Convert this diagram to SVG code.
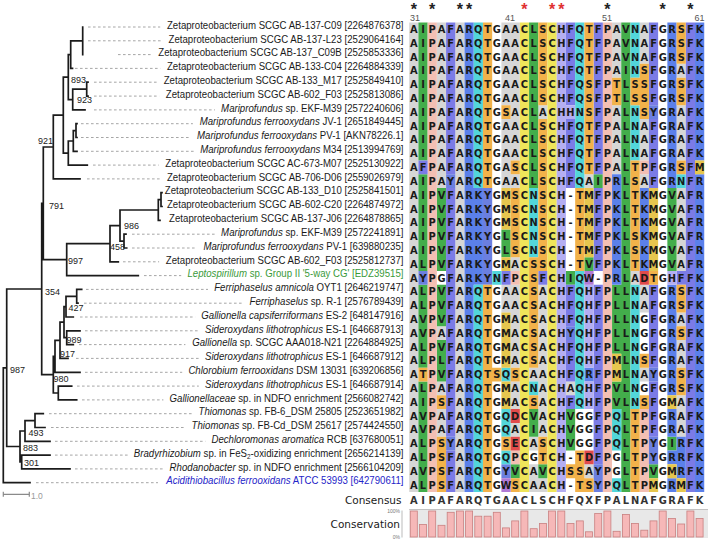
<svg xmlns="http://www.w3.org/2000/svg" width="708" height="541" viewBox="0 0 708 541">
<style>
.t{fill:none;stroke:#1b1b1b;stroke-width:1.7;stroke-linecap:square}
.ld{fill:none;stroke:#9c9c9c;stroke-width:0.9;stroke-dasharray:2.6 2.4}
.lb{font-family:"Liberation Sans",Arial,sans-serif;font-size:10.5px;fill:#1a1a1a;text-anchor:end}
.it{font-style:italic}
.bs{font-family:"Liberation Sans",Arial,sans-serif;font-size:9px;fill:#222}
.aa{font-family:"DejaVu Sans",Verdana,sans-serif;font-weight:bold;font-size:9.9px;fill:#1a1a1a;text-anchor:middle}
.cs{font-family:"DejaVu Sans",Verdana,sans-serif;font-weight:bold;font-size:9.9px;fill:#333;text-anchor:middle}
.hd{font-family:"DejaVu Sans",Verdana,sans-serif;font-size:10.5px;fill:#1a1a1a;text-anchor:end}
.st{font-family:"Liberation Sans",Arial,sans-serif;font-size:16px;font-weight:bold;fill:#222;text-anchor:middle}
.sr{fill:#e03030}
.nm{font-family:"Liberation Sans",Arial,sans-serif;font-size:9px;fill:#555;text-anchor:middle}
.cA{fill:#d6d6d6}.cG{fill:#43ad4b}.cP{fill:#f3bfb3}.cF{fill:#7b7be6}.cY{fill:#6b7fe0}.cR{fill:#5b80ea}
.cQ{fill:#52d6da}.cS{fill:#f2b24a}.cC{fill:#efe55a}.cH{fill:#b4aef2}.cD{fill:#e14b4b}.cW{fill:#b07ad6}.cM{fill:#e6c64e}
.bar{fill:#f6b8b8;stroke:#c98080;stroke-width:0.8}
</style>
<rect width="708" height="541" fill="#fff"/>

<g id="leaders">
<path class="ld" d="M88 27H160.2M88 40.8H161.8M118 54.6H151.6M75 68.4H160.2M94 82.2H157M94 96.1H159.1M94 109.9H214.9M81 123.7H192.9M81 137.5H190.3M81 151.3H194M93 165.1H158.6M87 178.9H160.2M132 234.2H214.9M132 248H196.7M123 261.8H159.1M144 275.6H181.2M86 289.4H208M84 303.2H243.4M80 317H195.1M85 330.8H198.8M79 344.6H185.4M76 358.4H198.8M85 372.3H182.2M77 386.1H198.8M82 399.9H163.4M49 413.7H192.4M51 427.5H185.4M55 441.3H205.3M55 455.1H127.6M75 468.9H163.4M36 482.7H158"/>
</g>

<g id="connectors">
<path class="t" d="M82.7 27V54.6M70.7 40.8H82.7M70.7 68.4H72.5M70.7 40.8V68.4M86.7 82.2V96.1M86.7 82.2H88M86.7 96.1H88M72.7 89.2H86.7M72.7 109.9H85M72.7 89.2V109.9M68.3 54.6H70.7M68.3 99.6H72.7M68.3 54.6V99.6M76 123.7V137.5M76 123.7H77M76 137.5H77M73.3 130.6H76M73.3 151.3H77M73.3 130.6V151.3M68.3 141H73.3M68.3 165.1H87.3M68.3 141V165.1M63.3 77.1H68.3M63.3 153.1H68.3M63.3 77.1V153.1M53.3 115.1H63.3M53.3 178.9H80M53.3 115.1V178.9M43.3 147H53.3M161 192.7V206.5M161 192.7H162M161 206.5H162M158.3 199.6H161M158.3 220.3H160M158.3 199.6V220.3M120 210H158.3M124 234.2V248M124 234.2H126M124 248H126.7M120 241.1H124M120 210V241.1M110 225.6H120M110 261.8H118.3M110 225.6V261.8M66.7 243.7H110M66.7 275.6H138.3M66.7 243.7V275.6M43.3 259.7H66.7M43.3 147V259.7M41.7 203.3H43.3M76.7 289.4V303.2M76.7 289.4H81.7M76.7 303.2H78M66 296.3H76.7M66 317H73.3M66 296.3V317M66.7 330.8V344.6M66.7 330.8H80M66.7 344.6H73.3M64 306.7H66M64 337.7H66.7M64 306.7V337.7M60 322.2H64M60 358.4H68M60 322.2V358.4M55 340.3H60M55 372.3H80M55 340.3V372.3M58.3 386.1V399.9M58.3 386.1H71.7M58.3 399.9H76.7M53.3 356.3H55M53.3 393H58.3M53.3 356.3V393M41.7 374.7H53.3M41.7 203.3V374.7M6.7 289H41.7M35 413.7V427.5M35 413.7H43.3M35 427.5H45M25 420.6H35M25 441.3H50M25 420.6V441.3M21.7 455.1V468.9M21.7 455.1H50M21.7 468.9H70M20 431H25M20 462H21.7M20 431V462M6.7 446.5H20M6.7 289V446.5M3.3 367.8H6.7M3.3 482.7H30M3.3 367.8V482.7"/>
</g>

<g id="bootstrap" class="bs">
<text x="71" y="82.5">893</text>
<text x="77" y="103">923</text>
<text x="38" y="143.5">921</text>
<text x="49" y="208.5">791</text>
<text x="124" y="229">986</text>
<text x="110" y="250">458</text>
<text x="68" y="263.5">997</text>
<text x="45" y="294.5">354</text>
<text x="68.5" y="310.5">427</text>
<text x="66.5" y="342.5">989</text>
<text x="60" y="356.5">917</text>
<text x="53.5" y="382">980</text>
<text x="10" y="372.5">987</text>
<text x="28.5" y="435.5">493</text>
<text x="23" y="451">883</text>
<text x="24" y="466">301</text>
</g>

<g id="scalebar">
<path d="M3.3 494.3H29.3M3.3 491.8V496.8M29.3 491.8V496.8" stroke="#8a8a8a" stroke-width="1.2" fill="none"/>
<text x="31" y="498.5" font-family="Liberation Sans, Arial, sans-serif" font-size="8.5" fill="#999">1.0</text>
</g>

<g id="labels" transform="translate(403.5 0) scale(0.92 1)" class="lb">
<text id="n0" x="0" y="28.8">Zetaproteobacterium SCGC AB-137-C09 [2264876378]</text>
<text id="n1" x="0" y="42.6">Zetaproteobacterium SCGC AB-137-L23 [2529064164]</text>
<text id="n2" x="0" y="56.4">Zetaproteobacterium SCGC AB-137_C09B [2525853336]</text>
<text id="n3" x="0" y="70.2">Zetaproteobacterium SCGC AB-133-C04 [2264884339]</text>
<text id="n4" x="0" y="84">Zetaproteobacterium SCGC AB-133_M17 [2525849410]</text>
<text id="n5" x="0" y="97.9">Zetaproteobacterium SCGC AB-602_F03 [2525813086]</text>
<text id="n6" x="0" y="111.7"><tspan class="it">Mariprofundus</tspan> sp. EKF-M39 [2572240606]</text>
<text id="n7" x="0" y="125.5"><tspan class="it">Mariprofundus ferrooxydans</tspan> JV-1 [2651849445]</text>
<text id="n8" x="0" y="139.3"><tspan class="it">Mariprofundus ferrooxydans</tspan> PV-1 [AKN78226.1]</text>
<text id="n9" x="0" y="153.1"><tspan class="it">Mariprofundus ferrooxydans</tspan> M34 [2513994769]</text>
<text id="n10" x="0" y="166.9">Zetaproteobacterium SCGC AC-673-M07 [2525130922]</text>
<text id="n11" x="0" y="180.7">Zetaproteobacterium SCGC AB-706-D06 [2559026979]</text>
<text id="n12" x="0" y="194.5">Zetaproteobacterium SCGC AB-133_D10 [2525841501]</text>
<text id="n13" x="0" y="208.3">Zetaproteobacterium SCGC AB-602-C20 [2264874972]</text>
<text id="n14" x="0" y="222.1">Zetaproteobacterium SCGC AB-137-J06 [2264878865]</text>
<text id="n15" x="0" y="236"><tspan class="it">Mariprofundus</tspan> sp. EKF-M39 [2572241891]</text>
<text id="n16" x="0" y="249.8"><tspan class="it">Mariprofundus ferrooxydans</tspan> PV-1 [639880235]</text>
<text id="n17" x="0" y="263.6">Zetaproteobacterium SCGC AB-602_F03 [2525812737]</text>
<text id="n18" x="0" y="277.4" fill="#3a9a3a"><tspan class="it">Leptospirillum</tspan> sp. Group II '5-way CG' [EDZ39515]</text>
<text id="n19" x="0" y="291.2"><tspan class="it">Ferriphaselus amnicola</tspan> OYT1 [2646219747]</text>
<text id="n20" x="0" y="305"><tspan class="it">Ferriphaselus</tspan> sp. R-1 [2576789439]</text>
<text id="n21" x="0" y="318.8"><tspan class="it">Gallionella capsiferriformans</tspan> ES-2 [648147916]</text>
<text id="n22" x="0" y="332.6"><tspan class="it">Sideroxydans lithotrophicus</tspan> ES-1 [646687913]</text>
<text id="n23" x="0" y="346.4"><tspan class="it">Gallionella</tspan> sp. SCGC AAA018-N21 [2264884925]</text>
<text id="n24" x="0" y="360.2"><tspan class="it">Sideroxydans lithotrophicus</tspan> ES-1 [646687912]</text>
<text id="n25" x="0" y="374.1"><tspan class="it">Chlorobium ferrooxidans</tspan> DSM 13031 [639206856]</text>
<text id="n26" x="0" y="387.9"><tspan class="it">Sideroxydans lithotrophicus</tspan> ES-1 [646687914]</text>
<text id="n27" x="0" y="401.7"><tspan class="it">Gallionellaceae</tspan> sp. in NDFO enrichment [2566082742]</text>
<text id="n28" x="0" y="415.5"><tspan class="it">Thiomonas</tspan> sp. FB-6_DSM 25805 [2523651982]</text>
<text id="n29" x="0" y="429.3"><tspan class="it">Thiomonas</tspan> sp. FB-Cd_DSM 25617 [2574424550]</text>
<text id="n30" x="0" y="443.1"><tspan class="it">Dechloromonas aromatica</tspan> RCB [637680051]</text>
<text id="n31" x="0" y="456.9"><tspan class="it">Bradyrhizobium</tspan> sp. in FeS<tspan font-size="7" dy="2">2</tspan><tspan dy="-2">-oxidizing enrichment [2656214139]</tspan></text>
<text id="n32" x="0" y="470.7"><tspan class="it">Rhodanobacter</tspan> sp. in NDFO enrichment [2566104209]</text>
<text id="n33" x="0" y="484.5" fill="#2424c8"><tspan class="it">Acidithiobacillus ferrooxidans</tspan> ATCC 53993 [642790611]</text>
</g>

<g id="header">
<text class="st" x="413.8" y="15">*</text>
<text class="st" x="432.2" y="15">*</text>
<text class="st" x="459.9" y="15">*</text>
<text class="st" x="469.1" y="15">*</text>
<text class="st sr" x="524.4" y="15">*</text>
<text class="st sr" x="552.1" y="15">*</text>
<text class="st sr" x="561.3" y="15">*</text>
<text class="st" x="607.4" y="15">*</text>
<text class="st" x="662.7" y="15">*</text>
<text class="st" x="690.4" y="15">*</text>
<text class="nm" x="415" y="21">31</text>
<text class="nm" x="510" y="21">41</text>
<text class="nm" x="607" y="21">51</text>
<text class="nm" x="699.5" y="21">61</text>
</g>

<g id="cells" transform="translate(409.2 22.4) scale(9.22 13.81)">
<path class="cA" d="M0 0h1v34h-1zM3 0h1v12h-1zM3 22h1v1h-1zM3 26h1v1h-1zM3 28h1v2h-1zM5 0h1v34h-1zM10 0h1v6h-1zM10 7h1v5h-1zM10 19h1v2h-1zM11 0h1v10h-1zM11 11h1v1h-1zM11 17h1v1h-1zM11 19h1v6h-1zM11 26h1v2h-1zM11 29h1v1h-1zM13 25h1v1h-1zM13 30h1v1h-1zM13 32h1v2h-1zM14 6h1v1h-1zM14 19h1v11h-1zM14 33h1v1h-1zM17 26h1v1h-1zM19 11h1v1h-1zM19 32h1v1h-1zM22 0h1v4h-1zM22 6h1v5h-1zM24 18h1v1h-1zM25 0h1v3h-1zM25 7h1v3h-1zM25 11h1v1h-1zM25 19h1v2h-1zM25 25h1v1h-1zM29 3h1v1h-1zM29 6h1v4h-1zM29 12h1v6h-1zM29 21h1v1h-1zM29 23h1v2h-1zM29 27h1v3h-1z"/>
<path class="cG" d="M1 0h1v10h-1zM1 11h1v7h-1zM1 19h1v6h-1zM1 26h1v8h-1zM3 12h1v6h-1zM3 19h1v3h-1zM3 23h1v3h-1zM10 15h1v2h-1zM11 32h1v1h-1zM13 0h1v12h-1zM13 28h1v2h-1zM14 32h1v1h-1zM17 18h1v1h-1zM17 28h1v3h-1zM19 17h1v1h-1zM20 11h1v1h-1zM22 19h1v5h-1zM22 26h1v2h-1zM23 0h1v34h-1zM26 32h1v1h-1zM28 12h1v6h-1zM28 30h1v1h-1z"/>
<path class="cP" d="M2 0h1v34h-1zM11 18h1v1h-1zM11 31h1v1h-1zM21 0h1v34h-1zM25 10h1v1h-1zM25 28h1v6h-1z"/>
<path class="cF" d="M1 10h1v1h-1zM4 0h1v11h-1zM4 12h1v18h-1zM4 31h1v3h-1zM10 18h1v1h-1zM14 18h1v1h-1zM17 0h1v6h-1zM17 7h1v5h-1zM17 19h1v3h-1zM17 23h1v3h-1zM17 27h1v1h-1zM20 0h1v11h-1zM20 12h1v6h-1zM20 19h1v13h-1zM26 0h1v6h-1zM26 7h1v5h-1zM26 19h1v6h-1zM26 26h1v4h-1zM29 18h1v1h-1zM30 0h1v34h-1z"/>
<path class="cY" d="M1 18h1v1h-1zM4 11h1v1h-1zM4 30h1v1h-1zM8 12h1v7h-1zM10 32h1v1h-1zM17 22h1v1h-1zM20 32h1v2h-1zM26 6h1v1h-1zM26 25h1v1h-1zM26 30h1v2h-1z"/>
<path class="cR" d="M6 0h1v34h-1zM7 12h1v7h-1zM19 25h1v1h-1zM22 11h1v8h-1zM25 12h1v6h-1zM28 0h1v12h-1zM28 19h1v8h-1zM28 28h1v2h-1zM28 31h1v1h-1zM28 33h1v1h-1zM29 30h1v3h-1zM31 0h1v10h-1zM31 11h1v23h-1z"/>
<path class="cQ" d="M7 0h1v12h-1zM7 19h1v15h-1zM9 18h1v1h-1zM10 25h1v1h-1zM10 28h1v2h-1zM10 31h1v1h-1zM13 12h1v5h-1zM13 26h1v1h-1zM18 0h1v12h-1zM18 18h1v10h-1zM22 28h1v3h-1zM22 33h1v1h-1zM24 0h1v4h-1zM24 6h1v4h-1zM24 19h1v9h-1zM29 11h1v1h-1z"/>
<path class="cS" d="M1 25h1v1h-1zM3 27h1v1h-1zM3 30h1v4h-1zM8 0h1v12h-1zM8 19h1v15h-1zM9 25h1v1h-1zM10 6h1v1h-1zM10 30h1v1h-1zM11 10h1v1h-1zM11 12h1v5h-1zM11 25h1v1h-1zM11 33h1v1h-1zM13 17h1v8h-1zM13 27h1v1h-1zM14 0h1v6h-1zM14 7h1v11h-1zM14 30h1v2h-1zM17 32h1v1h-1zM18 12h1v6h-1zM18 31h1v3h-1zM19 0h1v11h-1zM19 33h1v1h-1zM22 4h1v2h-1zM24 4h1v2h-1zM24 10h1v8h-1zM24 28h1v6h-1zM25 3h1v4h-1zM25 24h1v1h-1zM25 27h1v1h-1zM26 18h1v1h-1zM29 0h1v3h-1zM29 4h1v2h-1zM29 10h1v1h-1zM29 19h1v2h-1zM29 22h1v1h-1zM29 25h1v2h-1z"/>
<path class="cC" d="M12 0h1v34h-1zM15 0h1v34h-1z"/>
<path class="cH" d="M16 0h1v34h-1zM17 6h1v1h-1zM19 19h1v6h-1zM19 26h1v2h-1zM28 18h1v1h-1z"/>
<path class="cD" d="M11 28h1v1h-1zM11 30h1v1h-1zM19 31h1v1h-1zM25 18h1v1h-1z"/>
<path class="cW" d="M10 33h1v1h-1zM19 18h1v1h-1z"/>
<path class="cM" d="M10 12h1v3h-1zM10 17h1v1h-1zM10 21h1v4h-1zM10 26h1v2h-1zM19 12h1v5h-1zM22 24h1v2h-1zM26 12h1v6h-1zM26 33h1v1h-1zM28 27h1v1h-1zM28 32h1v1h-1zM29 33h1v1h-1zM31 10h1v1h-1z"/>
</g>

<g id="residues" class="aa">
<text y="32.95" x="413.8 423 432.2 441.5 450.7 459.9 469.1 478.3 487.6 496.8 506 515.2 524.4 533.7 542.9 552.1 561.3 570.5 579.8 589 598.2 607.4 616.6 625.9 635.1 644.3 653.5 662.7 672 681.2 690.4 699.6">AIPAFARQTGAACLSCHFQTFPAVNAFGRSFK</text>
<text y="46.76" x="413.8 423 432.2 441.5 450.7 459.9 469.1 478.3 487.6 496.8 506 515.2 524.4 533.7 542.9 552.1 561.3 570.5 579.8 589 598.2 607.4 616.6 625.9 635.1 644.3 653.5 662.7 672 681.2 690.4 699.6">AIPAFARQTGAACLSCHFQTFPAVNAFGRSFK</text>
<text y="60.57" x="413.8 423 432.2 441.5 450.7 459.9 469.1 478.3 487.6 496.8 506 515.2 524.4 533.7 542.9 552.1 561.3 570.5 579.8 589 598.2 607.4 616.6 625.9 635.1 644.3 653.5 662.7 672 681.2 690.4 699.6">AIPAFARQTGAACLSCHFQTFPAVNAFGRSFK</text>
<text y="74.38" x="413.8 423 432.2 441.5 450.7 459.9 469.1 478.3 487.6 496.8 506 515.2 524.4 533.7 542.9 552.1 561.3 570.5 579.8 589 598.2 607.4 616.6 625.9 635.1 644.3 653.5 662.7 672 681.2 690.4 699.6">AIPAFARQTGAACLSCHFQTFPAINSFGRAFK</text>
<text y="88.19" x="413.8 423 432.2 441.5 450.7 459.9 469.1 478.3 487.6 496.8 506 515.2 524.4 533.7 542.9 552.1 561.3 570.5 579.8 589 598.2 607.4 616.6 625.9 635.1 644.3 653.5 662.7 672 681.2 690.4 699.6">AIPAFARQTGAACLSCHFQSFPTLSSFGRSFK</text>
<text y="102" x="413.8 423 432.2 441.5 450.7 459.9 469.1 478.3 487.6 496.8 506 515.2 524.4 533.7 542.9 552.1 561.3 570.5 579.8 589 598.2 607.4 616.6 625.9 635.1 644.3 653.5 662.7 672 681.2 690.4 699.6">AIPAFARQTGAACLSCHFQSFPTLSSFGRSFK</text>
<text y="115.8" x="413.8 423 432.2 441.5 450.7 459.9 469.1 478.3 487.6 496.8 506 515.2 524.4 533.7 542.9 552.1 561.3 570.5 579.8 589 598.2 607.4 616.6 625.9 635.1 644.3 653.5 662.7 672 681.2 690.4 699.6">AIPAFARQTGSACLACHHNSFPALNSYGRAFK</text>
<text y="129.6" x="413.8 423 432.2 441.5 450.7 459.9 469.1 478.3 487.6 496.8 506 515.2 524.4 533.7 542.9 552.1 561.3 570.5 579.8 589 598.2 607.4 616.6 625.9 635.1 644.3 653.5 662.7 672 681.2 690.4 699.6">AIPAFARQTGAACLSCHFQTFPALNAFGRAFK</text>
<text y="143.4" x="413.8 423 432.2 441.5 450.7 459.9 469.1 478.3 487.6 496.8 506 515.2 524.4 533.7 542.9 552.1 561.3 570.5 579.8 589 598.2 607.4 616.6 625.9 635.1 644.3 653.5 662.7 672 681.2 690.4 699.6">AIPAFARQTGAACLSCHFQTFPALNAFGRAFK</text>
<text y="157.2" x="413.8 423 432.2 441.5 450.7 459.9 469.1 478.3 487.6 496.8 506 515.2 524.4 533.7 542.9 552.1 561.3 570.5 579.8 589 598.2 607.4 616.6 625.9 635.1 644.3 653.5 662.7 672 681.2 690.4 699.6">AIPAFARQTGAACLSCHFQTFPALNAFGRAFK</text>
<text y="171.1" x="413.8 423 432.2 441.5 450.7 459.9 469.1 478.3 487.6 496.8 506 515.2 524.4 533.7 542.9 552.1 561.3 570.5 579.8 589 598.2 607.4 616.6 625.9 635.1 644.3 653.5 662.7 672 681.2 690.4 699.6">AFPAFARQTGASCLSCHFQTFPALTPFGRSFM</text>
<text y="184.9" x="413.8 423 432.2 441.5 450.7 459.9 469.1 478.3 487.6 496.8 506 515.2 524.4 533.7 542.9 552.1 561.3 570.5 579.8 589 598.2 607.4 616.6 625.9 635.1 644.3 653.5 662.7 672 681.2 690.4 699.6">AIPAYARQTGAACLSCHFQAIPRLSAFGRNFR</text>
<text y="198.7" x="413.8 423 432.2 441.5 450.7 459.9 469.1 478.3 487.6 496.8 506 515.2 524.4 533.7 542.9 552.1 561.3 570.5 579.8 589 598.2 607.4 616.6 625.9 635.1 644.3 653.5 662.7 672 681.2 690.4 699.6">AIPVFARKYGMSCNSCH-TMFPKLTKMGVAFR</text>
<text y="212.5" x="413.8 423 432.2 441.5 450.7 459.9 469.1 478.3 487.6 496.8 506 515.2 524.4 533.7 542.9 552.1 561.3 570.5 579.8 589 598.2 607.4 616.6 625.9 635.1 644.3 653.5 662.7 672 681.2 690.4 699.6">AIPVFARKYGMSCNSCH-TMFPKLTKMGVAFR</text>
<text y="226.3" x="413.8 423 432.2 441.5 450.7 459.9 469.1 478.3 487.6 496.8 506 515.2 524.4 533.7 542.9 552.1 561.3 570.5 579.8 589 598.2 607.4 616.6 625.9 635.1 644.3 653.5 662.7 672 681.2 690.4 699.6">AIPVFARKYGMSCNSCH-TMFPKLTKMGVAFR</text>
<text y="240.1" x="413.8 423 432.2 441.5 450.7 459.9 469.1 478.3 487.6 496.8 506 515.2 524.4 533.7 542.9 552.1 561.3 570.5 579.8 589 598.2 607.4 616.6 625.9 635.1 644.3 653.5 662.7 672 681.2 690.4 699.6">AIPVFARKYGLSCNSCH-TMFPKLSKMGVAFR</text>
<text y="253.9" x="413.8 423 432.2 441.5 450.7 459.9 469.1 478.3 487.6 496.8 506 515.2 524.4 533.7 542.9 552.1 561.3 570.5 579.8 589 598.2 607.4 616.6 625.9 635.1 644.3 653.5 662.7 672 681.2 690.4 699.6">AIPVFARKYGLSCNSCH-TMFPKLSKMGVAFR</text>
<text y="267.7" x="413.8 423 432.2 441.5 450.7 459.9 469.1 478.3 487.6 496.8 506 515.2 524.4 533.7 542.9 552.1 561.3 570.5 579.8 589 598.2 607.4 616.6 625.9 635.1 644.3 653.5 662.7 672 681.2 690.4 699.6">ALPVFARKYGMACSSCH-TVFPKLTKMGVAFR</text>
<text y="281.5" x="413.8 423 432.2 441.5 450.7 459.9 469.1 478.3 487.6 496.8 506 515.2 524.4 533.7 542.9 552.1 561.3 570.5 579.8 589 598.2 607.4 616.6 625.9 635.1 644.3 653.5 662.7 672 681.2 690.4 699.6">AYPGFARKYNFPCSFCHIQW-PRLADTGHFFK</text>
<text y="295.3" x="413.8 423 432.2 441.5 450.7 459.9 469.1 478.3 487.6 496.8 506 515.2 524.4 533.7 542.9 552.1 561.3 570.5 579.8 589 598.2 607.4 616.6 625.9 635.1 644.3 653.5 662.7 672 681.2 690.4 699.6">ALPVFARQTGAACSACHFQHFPLLNAFGRSFK</text>
<text y="309.2" x="413.8 423 432.2 441.5 450.7 459.9 469.1 478.3 487.6 496.8 506 515.2 524.4 533.7 542.9 552.1 561.3 570.5 579.8 589 598.2 607.4 616.6 625.9 635.1 644.3 653.5 662.7 672 681.2 690.4 699.6">ALPVFARQTGAACSACHFQHFPLLNAFGRSFK</text>
<text y="323" x="413.8 423 432.2 441.5 450.7 459.9 469.1 478.3 487.6 496.8 506 515.2 524.4 533.7 542.9 552.1 561.3 570.5 579.8 589 598.2 607.4 616.6 625.9 635.1 644.3 653.5 662.7 672 681.2 690.4 699.6">AVPVFARQTGMACSACHFQHFPLLNGFGRAFK</text>
<text y="336.8" x="413.8 423 432.2 441.5 450.7 459.9 469.1 478.3 487.6 496.8 506 515.2 524.4 533.7 542.9 552.1 561.3 570.5 579.8 589 598.2 607.4 616.6 625.9 635.1 644.3 653.5 662.7 672 681.2 690.4 699.6">AVPAFARQTGMACSACHYQHFPLLNGFGRSFK</text>
<text y="350.6" x="413.8 423 432.2 441.5 450.7 459.9 469.1 478.3 487.6 496.8 506 515.2 524.4 533.7 542.9 552.1 561.3 570.5 579.8 589 598.2 607.4 616.6 625.9 635.1 644.3 653.5 662.7 672 681.2 690.4 699.6">ALPVFARQTGMACSACHFQHFPLLNGFGRAFK</text>
<text y="364.4" x="413.8 423 432.2 441.5 450.7 459.9 469.1 478.3 487.6 496.8 506 515.2 524.4 533.7 542.9 552.1 561.3 570.5 579.8 589 598.2 607.4 616.6 625.9 635.1 644.3 653.5 662.7 672 681.2 690.4 699.6">ALPLFARQTGMACSACHFQHFPMLNSFGRAFK</text>
<text y="378.2" x="413.8 423 432.2 441.5 450.7 459.9 469.1 478.3 487.6 496.8 506 515.2 524.4 533.7 542.9 552.1 561.3 570.5 579.8 589 598.2 607.4 616.6 625.9 635.1 644.3 653.5 662.7 672 681.2 690.4 699.6">ATPVFARQTSQSCAACHFQRFPMLNAYGRSFK</text>
<text y="392" x="413.8 423 432.2 441.5 450.7 459.9 469.1 478.3 487.6 496.8 506 515.2 524.4 533.7 542.9 552.1 561.3 570.5 579.8 589 598.2 607.4 616.6 625.9 635.1 644.3 653.5 662.7 672 681.2 690.4 699.6">ALPAFARQTGMACNACHAQHFPVLNGFGRSFK</text>
<text y="405.8" x="413.8 423 432.2 441.5 450.7 459.9 469.1 478.3 487.6 496.8 506 515.2 524.4 533.7 542.9 552.1 561.3 570.5 579.8 589 598.2 607.4 616.6 625.9 635.1 644.3 653.5 662.7 672 681.2 690.4 699.6">AIPSFARQTGMACSACHFQHFPVLNSFGMAFK</text>
<text y="419.6" x="413.8 423 432.2 441.5 450.7 459.9 469.1 478.3 487.6 496.8 506 515.2 524.4 533.7 542.9 552.1 561.3 570.5 579.8 589 598.2 607.4 616.6 625.9 635.1 644.3 653.5 662.7 672 681.2 690.4 699.6">AVPAFARQTGQDCVACHVGGFPQLTPFGRAFK</text>
<text y="433.4" x="413.8 423 432.2 441.5 450.7 459.9 469.1 478.3 487.6 496.8 506 515.2 524.4 533.7 542.9 552.1 561.3 570.5 579.8 589 598.2 607.4 616.6 625.9 635.1 644.3 653.5 662.7 672 681.2 690.4 699.6">AVPAFARQTGQACIACHVGGFPQLTPFGRAFK</text>
<text y="447.3" x="413.8 423 432.2 441.5 450.7 459.9 469.1 478.3 487.6 496.8 506 515.2 524.4 533.7 542.9 552.1 561.3 570.5 579.8 589 598.2 607.4 616.6 625.9 635.1 644.3 653.5 662.7 672 681.2 690.4 699.6">ALPSYARQTGSECASCHVGGFPQLTPYGIRFK</text>
<text y="461.1" x="413.8 423 432.2 441.5 450.7 459.9 469.1 478.3 487.6 496.8 506 515.2 524.4 533.7 542.9 552.1 561.3 570.5 579.8 589 598.2 607.4 616.6 625.9 635.1 644.3 653.5 662.7 672 681.2 690.4 699.6">ALPSFARQTGQPCGTCH-TDFPGLTPYGRRFK</text>
<text y="474.9" x="413.8 423 432.2 441.5 450.7 459.9 469.1 478.3 487.6 496.8 506 515.2 524.4 533.7 542.9 552.1 561.3 570.5 579.8 589 598.2 607.4 616.6 625.9 635.1 644.3 653.5 662.7 672 681.2 690.4 699.6">AVPSFARQTGYVCAVCHSSAYPGLTPVGMRFK</text>
<text y="488.7" x="413.8 423 432.2 441.5 450.7 459.9 469.1 478.3 487.6 496.8 506 515.2 524.4 533.7 542.9 552.1 561.3 570.5 579.8 589 598.2 607.4 616.6 625.9 635.1 644.3 653.5 662.7 672 681.2 690.4 699.6">ALPSFARQTGWSCAACH-TSYPQLTPMGRMFK</text>
</g>

<g id="consensus">
<text class="hd" x="401.5" y="504">Consensus</text>
<text class="cs" y="503.8" x="413.8 423 432.2 441.5 450.7 459.9 469.1 478.3 487.6 496.8 506 515.2 524.4 533.7 542.9 552.1 561.3 570.5 579.8 589 598.2 607.4 616.6 625.9 635.1 644.3 653.5 662.7 672 681.2 690.4 699.6">AIPAFARQTGAACLSCHFQXFPALNAFGRAFK</text>
</g>

<g id="conservation">
<text class="hd" x="400" y="527.5">Conservation</text>
<text x="400" y="513" font-family="Liberation Sans, Arial, sans-serif" font-size="5" fill="#777" text-anchor="end">100%</text>
<text x="400" y="538.5" font-family="Liberation Sans, Arial, sans-serif" font-size="5" fill="#777" text-anchor="end">0%</text>
<path d="M402 510.5V537.5" stroke="#aaa" stroke-width="0.8" fill="none"/>
<rect x="409.2" y="509.5" width="298.8" height="28.5" fill="#e8e8e8"/>
<path d="M409.2 509.5H708" stroke="#b5b5b5" stroke-width="0.8"/>
<rect class="bar" x="410.3" y="511" width="7" height="26"/>
<rect class="bar" x="419.5" y="524.5" width="7" height="12.5"/>
<rect class="bar" x="428.7" y="511" width="7" height="26"/>
<rect class="bar" x="438" y="525.3" width="7" height="11.7"/>
<rect class="bar" x="447.2" y="512.3" width="7" height="24.7"/>
<rect class="bar" x="456.4" y="511" width="7" height="26"/>
<rect class="bar" x="465.6" y="511" width="7" height="26"/>
<rect class="bar" x="474.8" y="516.2" width="7" height="20.8"/>
<rect class="bar" x="484.1" y="516.2" width="7" height="20.8"/>
<rect class="bar" x="493.3" y="512.3" width="7" height="24.7"/>
<rect class="bar" x="502.5" y="527.9" width="7" height="9.1"/>
<rect class="bar" x="511.7" y="520.9" width="7" height="16.1"/>
<rect class="bar" x="520.9" y="511" width="7" height="26"/>
<rect class="bar" x="530.2" y="528.7" width="7" height="8.3"/>
<rect class="bar" x="539.4" y="523.5" width="7" height="13.5"/>
<rect class="bar" x="548.6" y="511" width="7" height="26"/>
<rect class="bar" x="557.8" y="511" width="7" height="26"/>
<rect class="bar" x="567" y="523.5" width="7" height="13.5"/>
<rect class="bar" x="576.3" y="520.9" width="7" height="16.1"/>
<rect class="bar" x="585.5" y="531.8" width="7" height="5.2"/>
<rect class="bar" x="594.7" y="513.6" width="7" height="23.4"/>
<rect class="bar" x="603.9" y="511" width="7" height="26"/>
<rect class="bar" x="613.1" y="531.3" width="7" height="5.7"/>
<rect class="bar" x="622.4" y="514.4" width="7" height="22.6"/>
<rect class="bar" x="631.6" y="523.5" width="7" height="13.5"/>
<rect class="bar" x="640.8" y="530.2" width="7" height="6.8"/>
<rect class="bar" x="650" y="520.9" width="7" height="16.1"/>
<rect class="bar" x="659.2" y="511" width="7" height="26"/>
<rect class="bar" x="668.5" y="518.5" width="7" height="18.5"/>
<rect class="bar" x="677.7" y="524" width="7" height="13"/>
<rect class="bar" x="686.9" y="511" width="7" height="26"/>
<rect class="bar" x="696.1" y="518.5" width="7" height="18.5"/>
</g>
</svg>
